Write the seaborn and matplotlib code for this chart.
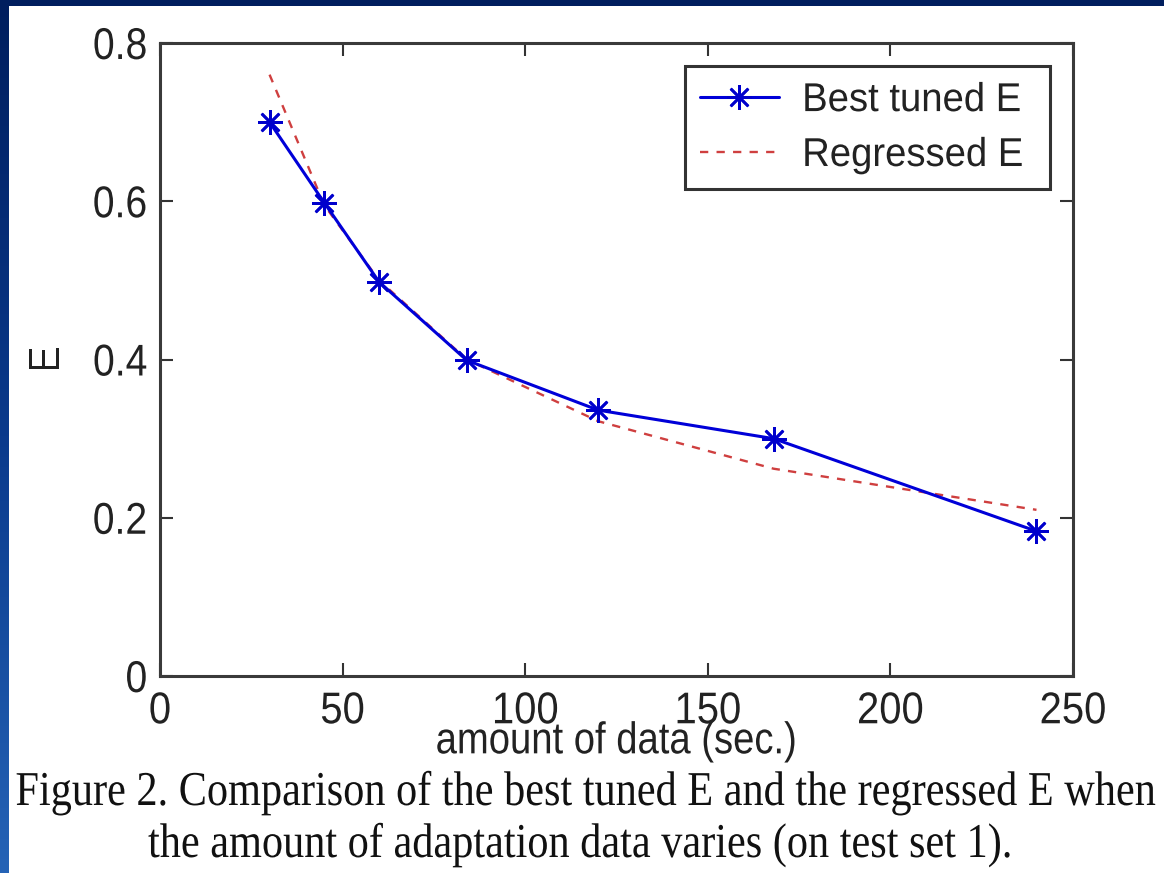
import numpy as np
import pandas as pd
import matplotlib
matplotlib.use("Agg")
import matplotlib.pyplot as plt
from matplotlib.colors import LinearSegmentedColormap
from matplotlib.patches import Rectangle
from matplotlib.patheffects import AbstractPathEffect
from matplotlib.transforms import Affine2D
import seaborn as sns

# ---- data ----
amount_sec = [30, 45, 60, 84, 120, 168, 240]
best_tuned_E = [0.700, 0.598, 0.498, 0.399, 0.336, 0.300, 0.183]
regressed_E = [0.760, 0.595, 0.500, 0.400, 0.322, 0.262, 0.210]
x_ticks = [0, 50, 100, 150, 200, 250]
y_ticks = [0, 0.2, 0.4, 0.6, 0.8]
y_tick_labels = ["0", "0.2", "0.4", "0.6", "0.8"]
series_labels = ["Best tuned E", "Regressed E"]
x_label = "amount of data (sec.)"
y_label = "E"
caption_lines = ["Figure 2. Comparison of the best tuned E and the regressed E when",
                 "the amount of adaptation data varies (on test set 1)."]


class HSqueeze(AbstractPathEffect):
    """Draw text squeezed horizontally (along its own baseline)."""

    def __init__(self, sx=0.85, anchor="center"):
        super().__init__()
        self.sx = sx
        self.anchor = anchor

    def draw_path(self, renderer, gc, tpath, affine, rgbFace=None):
        ext = tpath.get_extents()
        if self.anchor == "left":
            cx = ext.x0
        elif self.anchor == "right":
            cx = ext.x1
        else:
            cx = 0.5 * (ext.x0 + ext.x1)
        aff = Affine2D().translate(-cx, 0).scale(self.sx, 1).translate(cx, 0) + affine
        renderer.draw_path(gc, tpath, aff, rgbFace)


sns.set_style("ticks")
SANS = ["Liberation Sans", "DejaVu Sans"]
SERIF = ["Liberation Serif", "DejaVu Serif"]
plt.rcParams["font.family"] = SANS

W, H = 1164, 873
fig = plt.figure(figsize=(W / 100, H / 100), dpi=100)

# slide background: blue frame with gradient, white page
bg = fig.add_axes([0, 0, 1, 1], zorder=-10)
bg.set_axis_off()
cmap = LinearSegmentedColormap.from_list("slide", ["#001e5e", "#0a3a8c", "#2563b6"])
grad = np.linspace(0, 1, 256).reshape(-1, 1)
bg.imshow(grad, cmap=cmap, aspect="auto", extent=[0, 1, 0, 1])
bg.add_patch(Rectangle((9 / W, 0), 1, (H - 6) / H, transform=bg.transAxes,
                       facecolor="white", edgecolor="none"))
bg.set_xlim(0, 1)
bg.set_ylim(0, 1)

# main axes
left, right, top, bottom = 160, 1073, 43, 676
ax = fig.add_axes([left / W, 1 - bottom / H, (right - left) / W, (bottom - top) / H])
ax.set_facecolor("white")

df = pd.DataFrame({"amount": amount_sec, "best": best_tuned_E, "reg": regressed_E})
sns.lineplot(data=df, x="amount", y="reg", ax=ax, color="#cf3f3f",
             linestyle=(0, (3.5, 3.5)), linewidth=1.7, label=series_labels[1], zorder=2)
sns.lineplot(data=df, x="amount", y="best", ax=ax, color="#0000d8",
             linewidth=2.2, marker=(8, 2, 0), markersize=18, markeredgewidth=1.9,
             markeredgecolor="#0000cc", markerfacecolor="#0000cc",
             label=series_labels[0], zorder=3)

ax.set_xlim(0, 250)
ax.set_ylim(0, 0.8)
ax.set_xticks(x_ticks)
ax.set_xticklabels([str(t) for t in x_ticks])
ax.set_yticks(y_ticks)
ax.set_yticklabels(y_tick_labels)
ax.tick_params(direction="in", top=True, right=True, length=9.5, width=1.5,
               color="#333333", labelcolor="#222222")
ax.tick_params(axis="x", pad=11)
ax.tick_params(axis="y", pad=9)
for lab in ax.get_xticklabels():
    lab.set_fontsize(32)
    lab.set_path_effects([HSqueeze(0.9, "center")])
for lab in ax.get_yticklabels():
    lab.set_fontsize(32)
    lab.set_path_effects([HSqueeze(0.88, "right")])
for s in ax.spines.values():
    s.set_linewidth(2.2)
    s.set_color("#3a3a3a")
    s.set_visible(True)

ax.set_xlabel(x_label, fontsize=32, color="#222222", va="center",
              path_effects=[HSqueeze(0.86, "center")])
ax.xaxis.set_label_coords(0.5, -0.104)
ax.set_ylabel(y_label, fontsize=32, color="#222222", va="center",
              path_effects=[HSqueeze(0.9, "center")])
ax.yaxis.set_label_coords(-0.1227, 0.5)

# legend: best tuned first
handles, labels = ax.get_legend_handles_labels()
order = [labels.index(series_labels[0]), labels.index(series_labels[1])]
leg = ax.legend([handles[i] for i in order], [labels[i] for i in order],
                loc="upper right", bbox_to_anchor=(0.975, 0.964), borderaxespad=0,
                fancybox=False, framealpha=1, edgecolor="#333333",
                prop={"family": SANS, "size": 29}, handlelength=1.95,
                handletextpad=0.58, borderpad=0.38, labelspacing=0.42)
leg.get_frame().set_linewidth(2.2)
for t in leg.get_texts():
    t.set_color("#222222")
    t.set_path_effects([HSqueeze(0.95, "left")])

# caption (baselines)
fig.text(586 / W, 1 - 805 / H, caption_lines[0], ha="center", va="baseline",
         family=SERIF, fontsize=35, color="#111111",
         path_effects=[HSqueeze(0.87, "center")])
fig.text(581 / W, 1 - 857 / H, caption_lines[1], ha="center", va="baseline",
         family=SERIF, fontsize=35, color="#111111",
         path_effects=[HSqueeze(0.87, "center")])

fig.savefig("out.png", dpi=100)
